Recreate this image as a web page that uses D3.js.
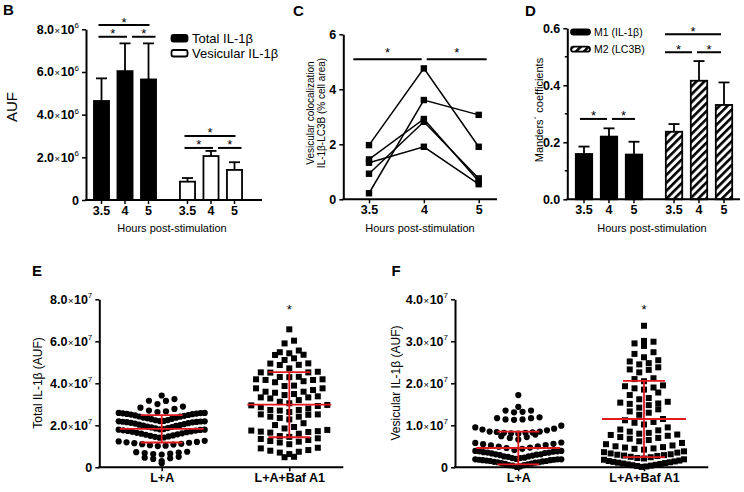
<!DOCTYPE html>
<html><head><meta charset="utf-8">
<script src="https://cdn.jsdelivr.net/npm/d3@7"></script>
<style>
body{margin:0;background:#fff}
svg{display:block}
</style></head><body>
<svg id="c" width="744" height="492"></svg>
<script>
// ---------------- DATA ----------------
const hours = ["3.5", "4", "5"];

// Panel B (AUF)
const bGroups = ["Total IL-1β", "Vesicular IL-1β"];
const bTotalMean = [4.64e6, 6.04e6, 5.65e6];
const bTotalSD   = [1.06e6, 1.30e6, 1.69e6];
const bVesMean   = [0.86e6, 2.06e6, 1.41e6];
const bVesSD     = [0.17e6, 0.24e6, 0.36e6];
const bTicks     = [0, 2e6, 4e6, 6e6, 8e6];

// Panel C (% cell area), one row per cell, values at 3.5 / 4 / 5 h
const cSeries = [
  [1.97, 4.76, 1.91],
  [0.22, 3.61, 3.07],
  [1.45, 2.92, 0.66],
  [0.93, 2.82, 0.76],
  [1.33, 1.91, 0.55]
];
const cTicks = [0, 2, 4, 6];

// Panel D (Manders' coefficients)
const dGroups = ["M1 (IL-1β)", "M2 (LC3B)"];
const dM1Mean = [0.159, 0.220, 0.157];
const dM1SD   = [0.026, 0.029, 0.045];
const dM2Mean = [0.237, 0.416, 0.331];
const dM2SD   = [0.027, 0.069, 0.079];
const dTicks  = [0, 0.2, 0.4, 0.6];
const dMinorTicks = [0.1, 0.3, 0.5];

// Panels E / F (units of 10^7 AUF)
const scatterGroups = ["L+A", "L+A+Baf A1"];
const eLA = [3.42,
  3.01, 3.16, 3.17, 3.25,
  2.63, 2.66, 2.70, 2.78, 2.84, 2.89,
  2.20, 2.21, 2.24, 2.25, 2.29, 2.31, 2.33, 2.36, 2.37, 2.41, 2.42, 2.45, 2.47, 2.49, 2.51, 2.53, 2.54, 2.56, 2.57, 2.58, 2.59, 2.59,
  1.81, 1.82, 1.85, 1.87, 1.90, 1.92, 1.94, 1.97, 1.99, 2.01, 2.03, 2.06, 2.08, 2.10, 2.12, 2.14, 2.15, 2.16, 2.17, 2.18, 2.19, 2.19,
  1.41, 1.42, 1.45, 1.47, 1.50, 1.52, 1.55, 1.57, 1.60, 1.62, 1.64, 1.67, 1.69, 1.71, 1.73, 1.75, 1.76, 1.78, 1.79, 1.79,
  1.01, 1.03, 1.05, 1.08, 1.10, 1.12, 1.15, 1.17, 1.19, 1.21, 1.23, 1.26,
  0.61, 0.63, 0.65, 0.68, 0.70, 0.72, 0.74,
  0.30, 0.40, 0.43, 0.46, 0.50,
  0.19];
const eLABaf = [6.57,
  5.90, 6.03,
  5.43, 5.48, 5.56,
  5.11, 5.19, 5.35, 5.36,
  4.71, 4.87, 4.88, 4.94, 4.95,
  4.29, 4.30, 4.31, 4.51, 4.52, 4.52, 4.55,
  3.87, 3.89, 4.05, 4.10, 4.16, 4.16, 4.19, 4.19,
  3.44, 3.49, 3.55, 3.60, 3.60, 3.68, 3.76, 3.76,
  3.05, 3.12, 3.20, 3.28, 3.33, 3.33, 3.38,
  2.63, 2.70, 2.73, 2.73, 2.80, 2.86, 2.92, 2.95, 2.97,
  2.28, 2.35, 2.41, 2.41, 2.50, 2.52, 2.52,
  1.85, 1.92, 2.01, 2.10,
  1.45, 1.49, 1.60, 1.65, 1.68, 1.70, 1.72, 1.75, 1.78,
  1.10, 1.18, 1.22, 1.25, 1.30, 1.35, 1.38,
  0.63, 0.70, 0.74, 0.79, 0.82, 0.90, 0.93,
  0.48, 0.50];
const eMean = [1.83, 2.98];
const eSD   = [0.65, 1.55];
const eTicks = [0, 2, 4, 6, 8];

const fLA = [1.72,
  1.44,
  1.31, 1.32, 1.35, 1.35,
  1.13, 1.14, 1.14, 1.17, 1.17, 1.19,
  0.80, 0.81, 0.82, 0.82, 0.83, 0.84, 0.85, 0.85, 0.88, 0.90, 0.92, 0.95, 0.99,
  0.66, 0.70, 0.72, 0.74, 0.78,
  0.41, 0.44, 0.46, 0.47, 0.49, 0.50, 0.52, 0.53, 0.55, 0.56, 0.58, 0.59,
  0.20, 0.22, 0.22, 0.23, 0.25, 0.26, 0.26, 0.28, 0.29, 0.30, 0.31, 0.31, 0.33, 0.34, 0.35, 0.35, 0.36, 0.37, 0.38, 0.38, 0.39, 0.39,
  0.01, 0.02, 0.04, 0.05, 0.05, 0.07, 0.08, 0.09, 0.10, 0.11, 0.12, 0.12, 0.13, 0.14, 0.15, 0.15, 0.16, 0.17, 0.17, 0.18, 0.18, 0.19, 0.19, 0.19];
const fLABaf = [3.37,
  3.01,
  2.89, 2.95, 2.99,
  2.62, 2.70, 2.74,
  2.45, 2.48, 2.52, 2.55,
  2.26, 2.32, 2.33, 2.38,
  2.05, 2.10, 2.12,
  1.85, 1.88, 1.90, 1.93, 1.95,
  1.62, 1.65, 1.72, 1.78,
  1.42, 1.48, 1.51, 1.52, 1.54, 1.56,
  1.25, 1.30, 1.33, 1.38,
  1.02, 1.06, 1.08, 1.12, 1.15,
  0.80, 0.82, 0.85, 0.88, 0.90, 0.95,
  0.62, 0.65, 0.68, 0.70, 0.72, 0.75, 0.77, 0.78,
  0.42, 0.44, 0.45, 0.47, 0.48, 0.50, 0.52, 0.55, 0.58,
  0.21, 0.22, 0.24, 0.25, 0.27, 0.28, 0.29, 0.30, 0.31, 0.33, 0.35, 0.36, 0.38,
  0.01, 0.02, 0.03, 0.04, 0.05, 0.06, 0.07, 0.08, 0.09, 0.10, 0.11, 0.12, 0.13, 0.14, 0.15, 0.16, 0.18, 0.19];
const fMean = [0.46, 1.15];
const fSD   = [0.39, 0.91];
const fTicks = [0, 1, 2, 3, 4];

// ---------------- DRAWING ----------------
const FF = '"Liberation Sans", Arial, Helvetica, sans-serif';
const RED = "#e2191f";
const svg = d3.select("#c").attr("font-family", FF);
svg.append("defs").append("pattern")
  .attr("id", "hatch").attr("patternUnits", "userSpaceOnUse")
  .attr("width", 5.6).attr("height", 5.6).attr("patternTransform", "rotate(45)")
  .call(p => { p.append("rect").attr("width", 5.6).attr("height", 5.6).attr("fill", "#fff");
               p.append("rect").attr("width", 2.6).attr("height", 5.6).attr("fill", "#000"); });

function sciFormat(exp, div) {
  return function(sel) {
    sel.selectAll(".tick text").each(function(d) {
      const t = d3.select(this); t.text(null);
      if (d === 0) { t.append("tspan").text("0"); return; }
      t.append("tspan").text(d3.format(".1f")(d / div));
      t.append("tspan").attr("font-weight", "normal").attr("font-size", "9.5px").attr("dx", 0.5).text("×");
      t.append("tspan").attr("dx", 0.5).text("10");
      t.append("tspan").attr("font-size", "8px").attr("font-weight", "normal").attr("dy", -5.5).text(exp);
    });
  };
}

function yAxis(x, scale, ticks, fmt, minor) {
  const ax = d3.axisLeft(scale).tickValues(ticks).tickSize(4).tickSizeOuter(0).tickPadding(3);
  if (fmt) ax.tickFormat(fmt);
  const g = svg.append("g").attr("transform", `translate(${x},0)`).call(ax)
    .attr("font-family", FF).attr("font-size", 12.5).attr("font-weight", "bold");
  g.select(".domain").attr("stroke-width", 2);
  g.selectAll(".tick line").attr("stroke-width", 1.5);
  if (minor) g.selectAll(".mt").data(minor).join("line").attr("class", "mt")
    .attr("x1", -2.5).attr("x2", 0).attr("y1", d => scale(d)).attr("y2", d => scale(d))
    .attr("stroke", "#000").attr("stroke-width", 1.5);
  return g;
}
function xLine(y, x1, x2) {
  svg.append("line").attr("x1", x1).attr("x2", x2).attr("y1", y).attr("y2", y)
    .attr("stroke", "#000").attr("stroke-width", 2);
}
function xTicks(scale, y, dx) {
  const g = svg.append("g").attr("transform", `translate(${dx || 0},${y})`)
    .call(d3.axisBottom(scale).tickSize(4).tickPadding(2))
    .attr("font-family", FF).attr("font-size", 12.5).attr("font-weight", "bold");
  g.select(".domain").remove();
  g.selectAll(".tick line").attr("stroke-width", 1.5);
  return g;
}
function label(x, y, txt, size, weight, rot, anchor) {
  return svg.append("text").attr("x", x).attr("y", y).attr("font-size", size)
    .attr("font-weight", weight || "normal").attr("text-anchor", anchor || "middle")
    .attr("transform", rot ? `rotate(${rot},${x},${y})` : null).text(txt);
}
function star(x, y, size) { label(x, y, "*", size || 13, "normal"); }
function bracket(x1, x2, y) {
  svg.append("line").attr("x1", x1).attr("x2", x2).attr("y1", y).attr("y2", y)
    .attr("stroke", "#000").attr("stroke-width", 2);
  star((x1 + x2) / 2, y + 1.5);
}
function errUp(cx, yTop, yBase, cap) {
  svg.append("line").attr("x1", cx).attr("x2", cx).attr("y1", yTop).attr("y2", yBase)
    .attr("stroke", "#000").attr("stroke-width", 1.8);
  svg.append("line").attr("x1", cx - cap / 2).attr("x2", cx + cap / 2).attr("y1", yTop).attr("y2", yTop)
    .attr("stroke", "#000").attr("stroke-width", 1.8);
}

// ===== Panel B =====
{
  const y = d3.scaleLinear().domain([0, 8e6]).range([200, 29.3]);
  const outer = d3.scaleBand().domain(bGroups).range([89.75, 246.25]).paddingInner(0.18).paddingOuter(0);
  const inner = d3.scaleBand().domain(hours).range([0, outer.bandwidth()]).paddingInner(0.29).paddingOuter(0.145);
  const series = [
    { g: bGroups[0], mean: bTotalMean, sd: bTotalSD, fill: "#000" },
    { g: bGroups[1], mean: bVesMean, sd: bVesSD, fill: "#fff" }
  ];
  series.forEach(s => {
    hours.forEach((h, i) => {
      const cx = outer(s.g) + inner(h) + inner.bandwidth() / 2;
      errUp(cx, y(s.mean[i] + s.sd[i]), y(s.mean[i]), 11);
      svg.append("rect").attr("x", outer(s.g) + inner(h) + 0.8).attr("width", inner.bandwidth() - 1.6)
        .attr("y", y(s.mean[i])).attr("height", y(0) - y(s.mean[i]))
        .attr("fill", s.fill).attr("stroke", "#000").attr("stroke-width", 1.8);
    });
    xTicks(inner, 200, outer(s.g));
    const cx = h => outer(s.g) + inner(h) + inner.bandwidth() / 2;
    const lv = s.g === bGroups[0] ? [7.65e6, 8.2e6] : [2.44e6, 3.0e6];
    bracket(cx("3.5") - 3, cx("4") + 2, y(lv[0]));
    bracket(cx("4") + 7, cx("5") + 7, y(lv[0]));
    bracket(cx("3.5") - 3, cx("5") + 1, y(lv[1]));
  });
  yAxis(86, y, bTicks).call(sciFormat("6", 1e6));
  xLine(200, 85, 262);
  // legend
  series.forEach((s, i) => {
    svg.append("rect").attr("x", 171.5).attr("y", 35 + i * 15).attr("width", 16).attr("height", 6.5)
      .attr("rx", 2).attr("fill", s.fill).attr("stroke", "#000").attr("stroke-width", 1.8);
    label(192, 42.5 + i * 15, s.g, 13, "normal", 0, "start");
  });
  label(17, 107, "AUF", 15, "normal", -90);
  label(172, 232, "Hours post-stimulation", 11);
  label(3, 14.5, "B", 15, "bold", 0, "start");
}

// ===== Panel C =====
{
  const y = d3.scaleLinear().domain([0, 6]).range([199.3, 34.3]);
  const x = d3.scalePoint().domain(hours).range([369, 478.7]);
  const line = d3.line().x((d, i) => x(hours[i])).y(d => y(d));
  svg.append("g").selectAll("path").data(cSeries).join("path")
    .attr("d", line).attr("fill", "none").attr("stroke", "#000").attr("stroke-width", 1.5);
  cSeries.forEach(s => {
    svg.append("g").selectAll("rect").data(s).join("rect")
      .attr("x", (d, i) => x(hours[i]) - 3.2).attr("y", d => y(d) - 3.2)
      .attr("width", 6.4).attr("height", 6.4).attr("fill", "#000");
  });
  yAxis(343.3, y, cTicks, d3.format("d"));
  xLine(199.3, 342.3, 497);
  xTicks(x, 199.3);
  const lv = y(5.09);
  svg.append("line").attr("x1", 353.3).attr("x2", 421.7).attr("y1", lv).attr("y2", lv).attr("stroke", "#000").attr("stroke-width", 2);
  svg.append("line").attr("x1", 426.7).attr("x2", 486.7).attr("y1", lv).attr("y2", lv).attr("stroke", "#000").attr("stroke-width", 2);
  star(387.5, lv - 2.5); star(456.7, lv - 2.5);
  label(314, 113, "Vesicular colocalization", 10, "normal", -90);
  label(324.5, 113, "IL-1β-LC3B (% cell area)", 10, "normal", -90);
  label(420, 232, "Hours post-stimulation", 11);
  label(293, 15.5, "C", 15, "bold", 0, "start");
}

// ===== Panel D =====
{
  const y = d3.scaleLinear().domain([0, 0.6]).range([199.3, 28.3]);
  const outer = d3.scaleBand().domain(dGroups).range([571.5, 736.5]).paddingInner(0.167).paddingOuter(0);
  const inner = d3.scaleBand().domain(hours).range([0, outer.bandwidth()]).paddingInner(0.28).paddingOuter(0.14);
  const series = [
    { g: dGroups[0], mean: dM1Mean, sd: dM1SD, fill: "#000" },
    { g: dGroups[1], mean: dM2Mean, sd: dM2SD, fill: "url(#hatch)" }
  ];
  series.forEach(s => {
    hours.forEach((h, i) => {
      const cx = outer(s.g) + inner(h) + inner.bandwidth() / 2;
      errUp(cx, y(s.mean[i] + s.sd[i]), y(s.mean[i]), 11);
      svg.append("rect").attr("x", outer(s.g) + inner(h) + 0.8).attr("width", inner.bandwidth() - 1.6)
        .attr("y", y(s.mean[i])).attr("height", y(0) - y(s.mean[i]))
        .attr("fill", s.fill).attr("stroke", "#000").attr("stroke-width", 1.8);
    });
    xTicks(inner, 199.3, outer(s.g));
  });
  const c1 = h => outer(dGroups[0]) + inner(h) + inner.bandwidth() / 2;
  const c2 = h => outer(dGroups[1]) + inner(h) + inner.bandwidth() / 2;
  bracket(c1("3.5") - 4, c1("4") - 2, y(0.282));
  bracket(c1("4") + 3, c1("5") + 1, y(0.282));
  bracket(c2("3.5") - 9, c2("4") - 7, y(0.516));
  bracket(c2("4") - 2, c2("5") - 3, y(0.516));
  bracket(c2("3.5") - 9, c2("5") - 3, y(0.579));
  yAxis(567.3, y, dTicks, d3.format(".1f"), dMinorTicks);
  xLine(199.3, 566.3, 740);
  series.forEach((s, i) => {
    svg.append("rect").attr("x", 571).attr("y", 29.5 + i * 17.2).attr("width", 19).attr("height", 5)
      .attr("rx", 2.5).attr("fill", s.fill).attr("stroke", "#000").attr("stroke-width", 1.8);
    label(594, 36 + i * 17.2, s.g, 10.5, "normal", 0, "start");
  });
  label(543, 110, "Manders´ coefficients", 11, "normal", -90);
  label(652, 232, "Hours post-stimulation", 11);
  label(525, 15.5, "D", 15, "bold", 0, "start");
}

// ===== Scatter panels E / F =====
function swarm(values, yScale, cx, binPx, off, maxHalf, maxStep) {
  const y0 = yScale(0);
  const pts = values.map(v => ({ v, y: yScale(v) }));
  const bins = d3.group(pts, p => Math.floor((y0 - p.y) / binPx - off + 1e-6));
  for (const arr of bins.values()) {
    arr.sort((a, b) => a.v - b.v);
    const n = arr.length;
    const s = n > 1 ? Math.min(maxStep, maxHalf / ((n - 1) / 2)) : 0;
    const pos = d3.range(n).map(i => (i - (n - 1) / 2) * s)
      .sort((a, b) => Math.abs(a) - Math.abs(b) || a - b);
    arr.forEach((p, i) => { p.x = cx + pos[i]; });
  }
  return pts;
}
function scatterPanel(o) {
  const y = d3.scaleLinear().domain(o.domain).range([467.3, 299.3]);
  const x = d3.scalePoint().domain(scatterGroups).range(o.xr);
  const binPx = 8.4;
  const a = swarm(o.g1, y, x(scatterGroups[0]), binPx, o.off, 43, 8.5);
  const b = swarm(o.g2, y, x(scatterGroups[1]), binPx, o.off, 40, 9.5);
  svg.append("g").selectAll("circle").data(a).join("circle")
    .attr("cx", d => d.x).attr("cy", d => d.y).attr("r", 3.1).attr("fill", "#000");
  svg.append("g").selectAll("rect").data(b).join("rect")
    .attr("x", d => d.x - 3).attr("y", d => d.y - 3).attr("width", 6).attr("height", 6).attr("fill", "#000");
  scatterGroups.forEach((g, i) => {
    const cx = x(g), m = o.mean[i], s = o.sd[i];
    const rl = (x1, x2, y1, y2) => svg.append("line").attr("x1", x1).attr("x2", x2).attr("y1", y1).attr("y2", y2)
      .attr("stroke", RED).attr("stroke-width", 1.8);
    rl(cx - 42, cx + 42, y(m), y(m));
    rl(cx, cx, y(m + s), y(m - s));
    rl(cx - 21, cx + 21, y(m + s), y(m + s));
    rl(cx - 21, cx + 21, y(m - s), y(m - s));
  });
  yAxis(o.ax, y, o.ticks).call(sciFormat("7", 1));
  xLine(467.3, o.ax - 1, o.axEnd);
  xTicks(x, 467.3).attr("font-size", 12.5);
  label(x(scatterGroups[1]), 314, "*", 13);
  label(o.ylx, 383, o.ylabel, 12, "normal", -90);
  label(o.lx, 275.5, o.letter, 15, "bold", 0, "start");
}
scatterPanel({ g1: eLA, g2: eLABaf, mean: eMean, sd: eSD, domain: [0, 8], ticks: eTicks, off: 0.5,
  xr: [161.7, 289.3], ax: 99.3, axEnd: 343.3, ylx: 42, ylabel: "Total IL-1β (AUF)", lx: 32, letter: "E" });
scatterPanel({ g1: fLA, g2: fLABaf, mean: fMean, sd: fSD, domain: [0, 4], ticks: fTicks, off: 0,
  xr: [518.3, 644], ax: 455, axEnd: 708.3, ylx: 400, ylabel: "Vesicular IL-1β (AUF)", lx: 391.5, letter: "F" });
</script>
</body></html>
